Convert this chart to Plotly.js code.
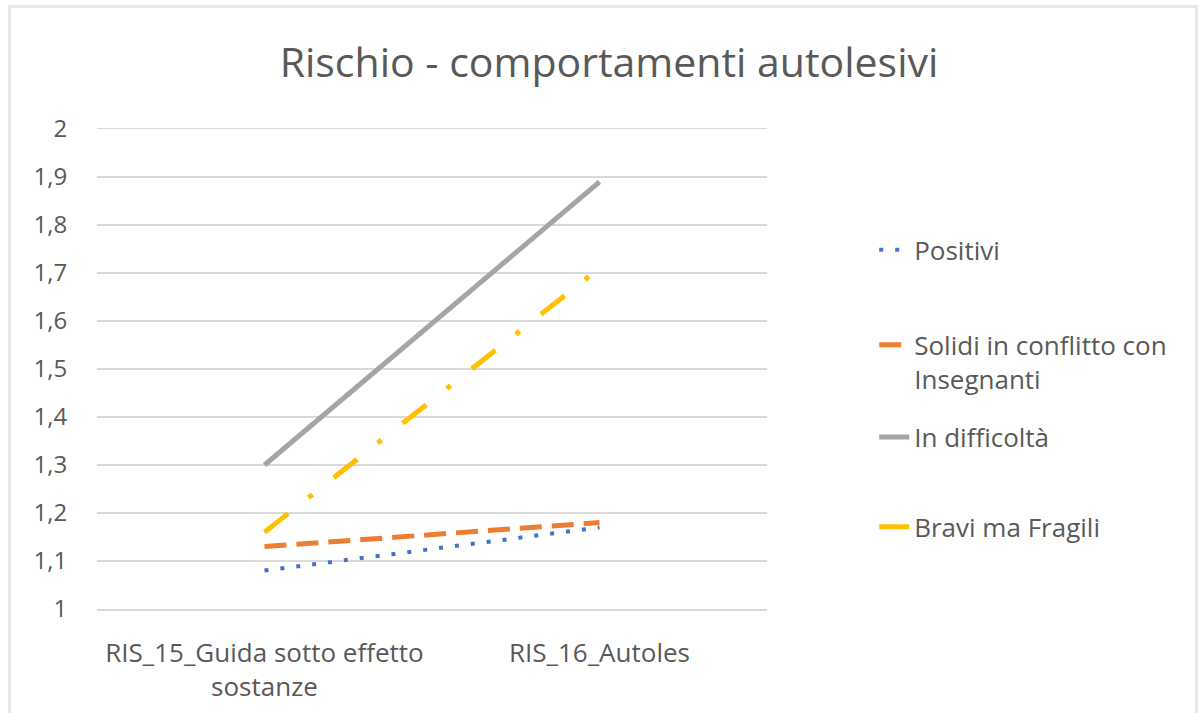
<!DOCTYPE html>
<html>
<head>
<meta charset="utf-8">
<script src="https://cdn.plot.ly/plotly-3.0.1.min.js"></script>
<style>
  html, body { margin: 0; padding: 0; background: #ffffff; }
  #wrap { position: relative; width: 1200px; height: 713px; overflow: hidden; }
  #chart { position: absolute; left: 0; top: 0; width: 1200px; height: 713px; }
  #frame { position: absolute; left: 8px; top: 5px; width: 1190px; height: 760px;
           border: 3px solid #e9e9e9; box-sizing: border-box; pointer-events: none; }
</style>
</head>
<body>
<div id="wrap">
  <div id="chart"></div>
  <div id="frame"></div>
</div>
<script>
// ---- data ----
const categories = ['RIS_15_Guida sotto effetto<br>sostanze', 'RIS_16_Autoles'];
const seriesNames = ['Positivi', 'Solidi in conflitto con<br>Insegnanti', 'In difficoltà', 'Bravi ma Fragili'];
const positivi = [1.08, 1.17];
const solidi = [1.13, 1.18];
const difficolta = [1.30, 1.89];
const bravi = [1.16, 1.71];
const yTickVals = [1, 1.1, 1.2, 1.3, 1.4, 1.5, 1.6, 1.7, 1.8, 1.9, 2];
const yTickText = ['1', '1,1', '1,2', '1,3', '1,4', '1,5', '1,6', '1,7', '1,8', '1,9', '2'];
const chartTitle = 'Rischio - comportamenti autolesivi';

// ---- styles ----
const FONT = '"Open Sans", Lato, sans-serif';
const TXT = '#595959';
const GRID = '#d9d9d9';

const traces = [
  { y: positivi, name: seriesNames[0], legend: 'legend',
    line: { color: '#4472C4', width: 4, dash: '4px,12px' } },
  { y: solidi, name: seriesNames[1], legend: 'legend2',
    line: { color: '#ED7D31', width: 5, dash: '22px,10px' } },
  { y: difficolta, name: seriesNames[2], legend: 'legend3',
    line: { color: '#A5A5A5', width: 5 } },
  { y: bravi, name: seriesNames[3], legend: 'legend4',
    line: { color: '#FFC000', width: 5, dash: '30px,26px,5px,27px' } }
].map(t => Object.assign({ type: 'scatter', mode: 'lines', x: categories, hoverinfo: 'skip' }, t));

function leg(y) {
  return { x: 1.16, xanchor: 'left', y: y, yanchor: 'middle', valign: 'top',
           bgcolor: 'rgba(0,0,0,0)', font: { family: FONT, size: 26, color: TXT } };
}

const layout = {
  width: 1200, height: 713,
  paper_bgcolor: '#ffffff', plot_bgcolor: '#ffffff',
  margin: { l: 97, r: 433, t: 129, b: 104 },
  title: { text: chartTitle, x: 0.5075, xanchor: 'center', y: 0.912, yanchor: 'middle',
           font: { family: FONT, size: 41, color: TXT } },
  xaxis: { type: 'category', range: [-0.5, 1.5], showgrid: false, zeroline: false,
           showline: true, mirror: true, linecolor: GRID, linewidth: 1.5,
           ticks: 'outside', ticklen: 20, tickcolor: 'rgba(0,0,0,0)',
           tickfont: { family: FONT, size: 26, color: TXT }, fixedrange: true },
  yaxis: { range: [1, 2], tickvals: yTickVals, ticktext: yTickText,
           showgrid: true, gridcolor: GRID, gridwidth: 1.5, zeroline: false, showline: false,
           ticks: 'outside', ticklen: 24, tickcolor: 'rgba(0,0,0,0)',
           tickfont: { family: FONT, size: 24, color: TXT }, fixedrange: true },
  showlegend: true,
  legend: leg(0.748),
  legend2: leg(0.515),
  legend3: leg(0.358),
  legend4: leg(0.171)
};

Plotly.newPlot('chart', traces, layout, { displayModeBar: false, staticPlot: true });
</script>
</body>
</html>
